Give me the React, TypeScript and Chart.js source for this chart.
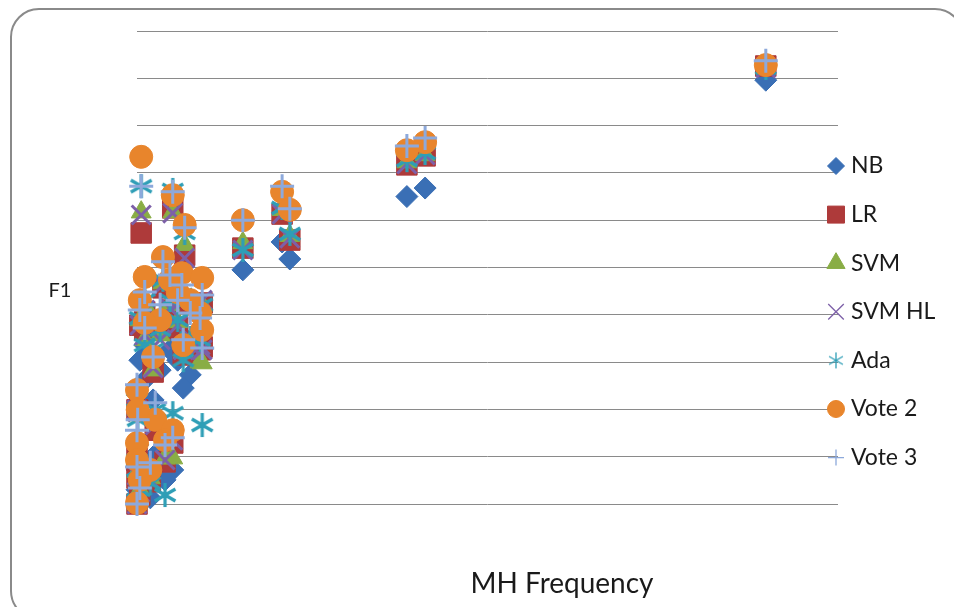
import React, { useEffect, useRef } from 'react';
import { Chart, registerables } from 'chart.js';
import { drawPoint } from 'chart.js/helpers';

Chart.register(...registerables);

// ---- data ----
const seriesNames = ['NB', 'LR', 'SVM', 'SVM HL', 'Ada', 'Vote 2', 'Vote 3'];
const mhFrequency = [0.6, 5.1, 6.8, 15.1, 20.7, 21.8, 38.5, 41.1, 89.7,
  3.7, 1.1, 6.4, 9.3, 5.8, 9.0, 3.3, 1.1, 2.3, 0, 2.6, 5.1, 0, 0, 0, 0.4, 7.6, 4.7, 0.1, 1.9, 0.4, 6.6, 9.3, 4.0];
const nbF1 = [0.368, 0.368, 0.326, 0.495, 0.554, 0.518, 0.650, 0.668, 0.896,
  0.389, 0.336, 0.357, 0.368, 0.304, 0.351, 0.283, 0.262, 0.220, 0.135, 0.104, 0.072, 0.072, 0.030, 0, 0.304, 0.273, 0.326, 0.125, 0.013, 0.008, 0.245, 0.326, 0.051];
const lrF1 = [0.573, 0.626, 0.526, 0.541, 0.613, 0.558, 0.717, 0.736, 0.926,
  0.457, 0.406, 0.425, 0.425, 0.372, 0.326, 0.378, 0.368, 0.279, 0.199, 0.156, 0.129, 0.097, 0.055, 0, 0.378, 0.330, 0.410, 0.199, 0.047, 0.019, 0.315, 0.332, 0.089];
const svmF1 = [0.617, 0.617, 0.548, 0.552, 0.622, 0.567, 0.723, 0.738, 0.922,
  0.467, 0.421, 0.436, 0.421, 0.385, 0.300, 0.357, 0.347, 0.283, 0.209, 0.178, 0.097, 0.110, 0.068, 0, 0.389, 0.342, 0.421, 0.188, 0.055, 0.030, 0.321, 0.298, 0.097];
const svmHlF1 = [0.611, 0.615, 0.520, 0.537, 0.613, 0.562, 0.719, 0.738, 0.922,
  0.463, 0.410, 0.431, 0.431, 0.378, 0.336, 0.347, 0.357, 0.288, 0.199, 0.167, 0.135, 0.104, 0.061, 0, 0.378, 0.336, 0.414, 0.195, 0.051, 0.025, 0.326, 0.326, 0.093];
const adaF1 = [0.672, 0.664, 0.573, 0.537, 0.626, 0.571, 0.727, 0.742, 0.922,
  0.474, 0.431, 0.442, 0.421, 0.389, 0.347, 0.368, 0.336, 0.326, 0.220, 0.199, 0.192, 0.114, 0.072, 0.008, 0.393, 0.351, 0.431, 0.178, 0.044, 0.030, 0.304, 0.167, 0.019];
const vote2F1 = [0.734, 0.653, 0.590, 0.600, 0.660, 0.622, 0.748, 0.765, 0.928,
  0.522, 0.480, 0.488, 0.478, 0.448, 0.404, 0.389, 0.383, 0.311, 0.241, 0.178, 0.156, 0.129, 0.093, 0.002, 0.431, 0.431, 0.474, 0.199, 0.072, 0.051, 0.336, 0.368, 0.135];
const vote3F1 = [0.672, 0.660, 0.584, 0.600, 0.672, 0.624, 0.757, 0.774, 0.937,
  0.512, 0.448, 0.463, 0.442, 0.431, 0.393, 0.421, 0.372, 0.311, 0.252, 0.214, 0.140, 0.156, 0.078, 0, 0.410, 0.404, 0.484, 0.178, 0.087, 0.034, 0.347, 0.330, 0.125];
const xAxisTitle = 'MH Frequency';
const yAxisTitle = 'F1';

const seriesValues = [nbF1, lrF1, svmF1, svmHlF1, adaF1, vote2F1, vote3F1];
const seriesColors = ['#3A6FB5', '#AE3A3A', '#89AD45', '#7D60A8', '#2E9EB6', '#E8852C', '#8DA9DB'];
const seriesStyles = ['rectRot', 'rect', 'triangle', 'crossRot', 'ada', 'circle', 'cross'];
const pointRadii = [11, 14.5, 11.5, 13.5, 12, 11.5, 12];
const pointBorders = [1, 1, 1, 3, 3, 1, 3];
const legendRadii = [8.5, 12, 10.5, 11, 8, 8.5, 8];
const legendBorders = [1, 1, 1, 1.3, 1.3, 1, 1.3];

function makeAsterisk(size: number, color: string, lw: number) {
  const c = document.createElement('canvas');
  c.width = size;
  c.height = size;
  const ctx = c.getContext('2d')!;
  ctx.strokeStyle = color;
  ctx.lineWidth = lw;
  const cx = size / 2;
  const cy = size / 2;
  const r = size / 2 - 1;
  ctx.beginPath();
  ctx.moveTo(cx, cy - r);
  ctx.lineTo(cx, cy + r);
  const dx = r * Math.sin(Math.PI / 3);
  const dy = r * Math.cos(Math.PI / 3);
  ctx.moveTo(cx - dx, cy - dy);
  ctx.lineTo(cx + dx, cy + dy);
  ctx.moveTo(cx + dx, cy - dy);
  ctx.lineTo(cx - dx, cy + dy);
  ctx.stroke();
  return c;
}

export default function App() {
  const ref = useRef<HTMLCanvasElement | null>(null);

  useEffect(() => {
    if (!ref.current) return;
    const adaPoint = makeAsterisk(26, seriesColors[4], 3.2);
    const adaLegend = makeAsterisk(18, seriesColors[4], 1.3);

    const framePlugin = {
      id: 'frame',
      beforeDraw(chart: any) {
        const ctx = chart.ctx;
        ctx.save();
        ctx.fillStyle = '#ffffff';
        ctx.fillRect(0, 0, chart.width, chart.height);
        ctx.strokeStyle = '#8a8a8a';
        ctx.lineWidth = 2;
        const x = 11, y = 9, w = 952, h = 610, r = 28;
        ctx.beginPath();
        ctx.moveTo(x + r, y);
        ctx.lineTo(x + w - r, y);
        ctx.arcTo(x + w, y, x + w, y + r, r);
        ctx.lineTo(x + w, y + h - r);
        ctx.arcTo(x + w, y + h, x + w - r, y + h, r);
        ctx.lineTo(x + r, y + h);
        ctx.arcTo(x, y + h, x, y + h - r, r);
        ctx.lineTo(x, y + r);
        ctx.arcTo(x, y, x + r, y, r);
        ctx.closePath();
        ctx.stroke();
        ctx.restore();
      },
      afterDraw(chart: any) {
        const ctx = chart.ctx;
        ctx.save();
        // axis titles
        ctx.fillStyle = '#1a1a1a';
        ctx.textAlign = 'center';
        ctx.textBaseline = 'middle';
        ctx.font = '20px Lato, "Open Sans", sans-serif';
        ctx.fillText(yAxisTitle, 60, 291);
        ctx.textBaseline = 'alphabetic';
        ctx.font = '28px Lato, "Open Sans", sans-serif';
        ctx.fillText(xAxisTitle, 562, 593);
        // legend
        const lx = 836;
        const ly0 = 166;
        const gap = 48.6;
        seriesNames.forEach((name, i) => {
          const y = ly0 + i * gap;
          ctx.save();
          ctx.fillStyle = seriesColors[i];
          ctx.strokeStyle = seriesColors[i];
          ctx.lineWidth = legendBorders[i];
          if (seriesStyles[i] === 'ada') {
            ctx.drawImage(adaLegend, lx - 9, y - 9, 18, 18);
          } else {
            drawPoint(ctx, { pointStyle: seriesStyles[i] as any, radius: legendRadii[i], borderWidth: legendBorders[i], rotation: 0 } as any, lx, y);
          }
          ctx.restore();
          ctx.fillStyle = '#1a1a1a';
          ctx.textAlign = 'left';
          ctx.textBaseline = 'middle';
          ctx.font = '23px Lato, "Open Sans", sans-serif';
          ctx.fillText(name, 851, y);
        });
        ctx.restore();
      },
    };

    const datasets = seriesNames.map((name, i) => ({
      label: name,
      data: mhFrequency.map((x, j) => ({ x, y: seriesValues[i][j] })),
      pointStyle: seriesStyles[i] === 'ada' ? adaPoint : seriesStyles[i],
      pointRadius: pointRadii[i],
      pointHoverRadius: pointRadii[i],
      pointBackgroundColor: seriesColors[i],
      pointBorderColor: seriesColors[i],
      pointBorderWidth: pointBorders[i],
      backgroundColor: seriesColors[i],
      borderColor: seriesColors[i],
      showLine: false,
      clip: false as any,
      order: seriesNames.length - i,
    }));

    const chart = new Chart(ref.current, {
      type: 'scatter',
      data: { datasets },
      options: {
        responsive: false,
        animation: false,
        layout: { padding: { left: 137, right: 116, top: 31, bottom: 103 } },
        plugins: { legend: { display: false }, tooltip: { enabled: false }, title: { display: false } },
        scales: {
          x: {
            type: 'linear',
            min: 0,
            max: 100,
            grid: { display: false, drawTicks: false },
            border: { display: false },
            ticks: { display: false },
          },
          y: {
            type: 'linear',
            min: 0,
            max: 1,
            grid: { display: true, drawTicks: false, color: '#8a8a8a', lineWidth: 1 },
            border: { display: false },
            ticks: { display: false, stepSize: 0.1 },
          },
        },
      },
      plugins: [framePlugin],
    });
    return () => chart.destroy();
  }, []);

  return (
    <div style={{ position: 'absolute', left: 0, top: 0, width: 954, height: 607, background: '#fff' }}>
      <canvas ref={ref} width={954} height={607} style={{ display: 'block' }} />
    </div>
  );
}
